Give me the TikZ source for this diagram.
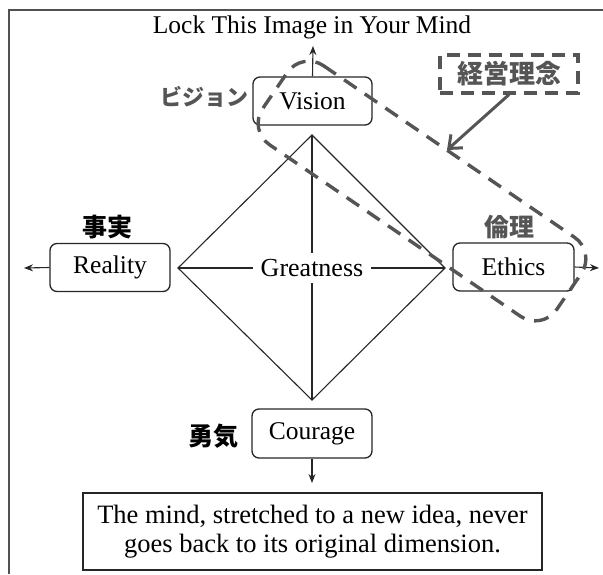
\documentclass[tikz,border=0pt]{standalone}
\usepackage{fontspec}
\setmainfont{Liberation Serif}
\newfontfamily\jp{Noto Sans CJK JP}
\usetikzlibrary{arrows.meta}
\definecolor{ink}{HTML}{262626}
\definecolor{mark}{HTML}{555555}
\tikzset{
  every node/.style={inner sep=0pt},
  valuebox/.style={draw=ink, line width=1.3pt, rounded corners=7pt, fill=white,
    minimum width=119pt, minimum height=48pt, font=\fontsize{25.5}{28}\selectfont},
  quotebox/.style={draw=ink, line width=1.4pt, minimum width=459pt, minimum height=77pt,
    align=center, font=\fontsize{26.5}{28.5}\selectfont},
  edge/.style={draw=ink, line width=1.1pt},
  outarrow/.style={draw=ink, line width=1.1pt, -{Stealth[length=9pt,width=7pt]}},
  jpgray/.style={text=mark, font=\jp\bfseries\fontsize{22}{24}\selectfont},
  jpblack/.style={text=black, font=\jp\bfseries\fontsize{25}{28}\selectfont},
  thickdash/.style={draw=mark, line width=3.4pt, dash pattern=on 15pt off 10pt},
}
\begin{document}
\begin{tikzpicture}[x=1pt, y=-1pt]
  \useasboundingbox (0,0) rectangle (603,574);
  % page frame
  \draw[draw=ink!80, line width=1.2pt] (603,10) -- (9,10) -- (9,574);

  % title
  \node (title) at (312,27) {\fontsize{25.5}{28}\selectfont Lock This Image in Your Mind};

  % diamond of values
  \coordinate (top) at (312,135);
  \coordinate (left) at (178,268);
  \coordinate (right) at (445,268);
  \coordinate (bottom) at (312,400);
  \node[minimum width=118pt, minimum height=30pt, font=\fontsize{26}{28}\selectfont]
    (great) at (312,268) {Greatness};
  \draw[edge] (top) -- (left) -- (bottom) -- (right) -- cycle;
  \draw[edge] (top) -- (great.north);
  \draw[edge] (great.south) -- (bottom);
  \draw[edge] (left) -- (great.west);
  \draw[edge] (great.east) -- (right);

  % the four boxes
  \node[valuebox] (vision) at (312.5,101) {Vision};
  \node[valuebox, minimum width=120pt] (reality) at (110,267.5) {Reality};
  \node[valuebox, minimum width=121pt] (ethics) at (513.5,267) {Ethics};
  \node[valuebox, minimum width=120pt, minimum height=49pt] (courage) at (312,433.5) {Courage};

  % outward arrows
  \coordinate (upend) at (313,46);
  \coordinate (leftend) at (24,268);
  \coordinate (rightend) at (599,268);
  \coordinate (downend) at (312,483);
  \draw[outarrow] (vision.north) -- (upend);
  \draw[outarrow] (reality.west) -- (leftend);
  \draw[outarrow] (ethics.east) -- (rightend);
  \draw[outarrow] (courage.south) -- (downend);

  % quotation
  \node[quotebox] (quote) at (312.5,531.5)
    {The mind, stretched to a new idea, never\\goes back to its original dimension.};

  % Japanese labels
  \node[jpgray, anchor=east] (visionjp) at (249,97) {ビジョン};
  \node[jpblack] (realityjp) at (107,227) {事実};
  \node[jpgray, font=\jp\bfseries\fontsize{25}{28}\selectfont] (ethicsjp) at (509,227) {倫理};
  \node[jpblack, anchor=east] (couragejp) at (239,436) {勇気};

  % management philosophy callout
  \node[draw=mark, line width=3.2pt, dash pattern=on 13pt off 8pt,
        minimum width=138pt, minimum height=38pt,
        text=mark, font=\jp\bfseries\fontsize{26}{28}\selectfont]
    (keiei) at (509,74) {経営理念};
  \coordinate (keieitip) at (447,150);
  \draw[draw=mark, line width=3pt, -{Straight Barb[length=11pt,width=18pt]}]
    (keiei.south) -- (keieitip);

  % tilted dashed enclosure around Vision and Ethics
  \draw[thickdash, rounded corners=26pt]
    (302,51) -- (596,252) -- (542,331) -- (248,130) -- cycle;
\end{tikzpicture}
\end{document}
